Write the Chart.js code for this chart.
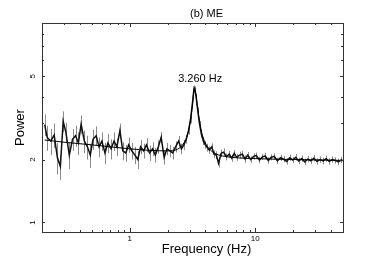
<!DOCTYPE html>
<html>
<head>
<meta charset="utf-8">
<script src="https://cdn.jsdelivr.net/npm/chart.js@4"></script>
<style>
  body { margin: 0; background: #fff; }
  #wrap { width: 387px; height: 273px; }
</style>
</head>
<body>
<div id="wrap"><canvas id="psd" width="387" height="273"></canvas></div>
<script>
const freq = [0.21, 0.22, 0.235, 0.25, 0.265, 0.28, 0.295, 0.31, 0.33, 0.35, 0.37, 0.39, 0.41, 0.435, 0.46, 0.485,
  0.51, 0.54, 0.57, 0.6, 0.635, 0.67, 0.71, 0.75, 0.79, 0.835, 0.88, 0.93, 0.98, 1.04, 1.1, 1.16, 1.22, 1.29, 1.36,
  1.44, 1.52, 1.6, 1.69, 1.78, 1.88, 1.98, 2.09, 2.2, 2.32, 2.45, 2.58, 2.7, 2.82, 2.94, 3.05, 3.15, 3.22, 3.26, 3.3,
  3.38, 3.48, 3.6, 3.72, 3.86, 4.0, 4.15, 4.3, 4.5, 4.7, 4.9, 5.1, 5.35, 5.6, 5.9, 6.2, 6.5, 6.8, 7.1, 7.5, 7.9, 8.3,
  8.7, 9.2, 9.7, 10.2, 10.8, 11.4, 12, 12.7, 13.4, 14.2, 15, 15.9, 16.8, 17.8, 18.8, 19.9, 21, 22.2, 23.5, 24.8,
  26.2, 27.7, 29.3, 31, 32.8, 34.7, 36.7, 38.8, 41, 43.4, 45.9, 48.5, 50];
const power = [2.94, 2.55, 2.45, 2.62, 2.05, 1.85, 3.05, 2.7, 2.1, 2.5, 2.6, 2.4, 2.95, 2.45, 2.3, 2.1,
  2.5, 2.6, 2.3, 2.45, 2.15, 2.4, 2.25, 2.45, 2.3, 2.75, 2.2, 2.15, 2.35, 2.2, 2.1, 2.0, 2.3, 2.2, 2.35,
  2.15, 2.25, 2.1, 2.3, 2.55, 2.05, 2.25, 2.2, 2.15, 2.3, 2.45, 2.25, 2.35, 2.5, 2.75, 3.1, 3.65, 4.15, 4.4, 4.35,
  4.0, 3.45, 2.95, 2.65, 2.45, 2.35, 2.28, 2.22, 2.3, 2.12, 2.1, 1.92, 2.14, 2.17, 2.06, 2.12, 2.03, 2.14, 2.05, 2.1, 2.12, 2.01,
  2.1, 2.0, 2.07, 2.09, 1.99, 2.06, 2.08, 1.98, 2.05, 2.07, 1.97, 2.04, 2.01, 1.96, 2.04, 1.99, 2.05, 1.97, 2.02, 1.95,
  2.01, 1.97, 2.03, 1.96, 2.0, 1.97, 2.02, 1.96, 2.0, 1.98, 1.95, 1.99, 1.97];
const powerErr = [0.35, 0.35, 0.35, 0.35, 0.35, 0.25, 0.35, 0.3, 0.3, 0.3, 0.3, 0.3, 0.3, 0.3, 0.3, 0.28,
  0.28, 0.28, 0.25, 0.25, 0.25, 0.25, 0.25, 0.25, 0.22, 0.22, 0.22, 0.2, 0.2, 0.2, 0.2, 0.2, 0.18, 0.18, 0.18,
  0.18, 0.17, 0.17, 0.17, 0.16, 0.16, 0.15, 0.15, 0.15, 0.14, 0.14, 0.13, 0.13, 0.12, 0.12, 0.12, 0.12, 0.12, 0.12, 0.12,
  0.12, 0.11, 0.11, 0.1, 0.1, 0.1, 0.1, 0.09, 0.09, 0.09, 0.09, 0.09, 0.09, 0.09, 0.08, 0.08, 0.08, 0.08, 0.08, 0.08, 0.08, 0.08,
  0.07, 0.07, 0.07, 0.07, 0.07, 0.07, 0.07, 0.07, 0.07, 0.07, 0.07, 0.07, 0.07, 0.07, 0.07, 0.07, 0.07, 0.07, 0.07, 0.07,
  0.07, 0.07, 0.07, 0.07, 0.07, 0.07, 0.07, 0.07, 0.07, 0.07, 0.07, 0.07, 0.07];

// fitted model (power law + Lorentzian + constant)
const modelFreq = [0.21, 0.3, 0.5, 0.7, 1.0, 1.5, 2.0, 2.4, 2.7, 2.9, 3.05, 3.15, 3.22, 3.26, 3.3, 3.38, 3.5, 3.65,
  3.8, 4.0, 4.3, 4.7, 5.5, 7, 10, 20, 50];
const modelPower = [2.48, 2.42, 2.35, 2.3, 2.25, 2.21, 2.2, 2.24, 2.4, 2.65, 3.1, 3.6, 4.1, 4.35, 4.3, 4.0, 3.4, 2.9,
  2.6, 2.4, 2.25, 2.15, 2.08, 2.04, 2.02, 2.0, 1.98];

const xMajorTicks = [1, 10];
const xMinorTicks = [0.3, 0.4, 0.5, 0.6, 0.7, 0.8, 0.9, 2, 3, 4, 5, 6, 7, 8, 9, 20, 30, 40];
const yLabelTicks = [1, 2, 5];
const yMinorTicks = [3, 4, 6, 7, 8, 9];
const peakLabel = '3.260 Hz';
const peakFreq = 3.26;

const FONT = '"Liberation Sans", Arial, Helvetica, sans-serif';

const errorBars = {
  id: 'errorBars',
  beforeDatasetsDraw(chart) {
    const { ctx, scales: { x, y } } = chart;
    ctx.save();
    ctx.strokeStyle = '#8a8a8a';
    ctx.lineWidth = 1;
    ctx.beginPath();
    freq.forEach((f, i) => {
      const px = Math.round(x.getPixelForValue(f)) + 0.5;
      ctx.moveTo(px, y.getPixelForValue(power[i] + powerErr[i]));
      ctx.lineTo(px, y.getPixelForValue(power[i] - powerErr[i]));
    });
    ctx.stroke();
    ctx.restore();
  }
};

const frame = {
  id: 'frame',
  afterDraw(chart) {
    const { ctx, chartArea: a, scales: { x, y } } = chart;
    ctx.save();
    ctx.strokeStyle = '#333';
    ctx.lineWidth = 1;
    ctx.strokeRect(a.left + 0.5, a.top + 0.5, a.right - a.left, a.bottom - a.top);

    ctx.beginPath();
    const xt = (v, len) => {
      const px = Math.round(x.getPixelForValue(v)) + 0.5;
      ctx.moveTo(px, a.bottom); ctx.lineTo(px, a.bottom - len);
      ctx.moveTo(px, a.top); ctx.lineTo(px, a.top + len);
    };
    const yt = (v, len) => {
      const py = Math.round(y.getPixelForValue(v)) + 0.5;
      ctx.moveTo(a.left, py); ctx.lineTo(a.left + len, py);
      ctx.moveTo(a.right, py); ctx.lineTo(a.right - len, py);
    };
    xMajorTicks.forEach(v => xt(v, 4));
    xMinorTicks.forEach(v => xt(v, 2));
    yLabelTicks.forEach(v => yt(v, 3));
    yMinorTicks.forEach(v => yt(v, 2));
    ctx.stroke();

    ctx.fillStyle = '#000';
    ctx.font = '8px ' + FONT;
    ctx.textAlign = 'center';
    ctx.textBaseline = 'middle';
    xMajorTicks.forEach(v => ctx.fillText(String(v), x.getPixelForValue(v), a.bottom + 7));
    yLabelTicks.forEach(v => {
      ctx.save();
      ctx.translate(a.left - 9, y.getPixelForValue(v));
      ctx.rotate(-Math.PI / 2);
      ctx.fillText(String(v), 0, 0);
      ctx.restore();
    });

    const mid = (a.left + a.right) / 2 + 14;
    ctx.font = '11px ' + FONT;
    ctx.fillText('(b) ME', mid, 14);
    ctx.fillText(peakLabel, x.getPixelForValue(peakFreq) + 6, y.getPixelForValue(4.88));

    ctx.font = '13px ' + FONT;
    ctx.fillText('Frequency (Hz)', mid, a.bottom + 17);
    ctx.save();
    ctx.translate(20, (a.top + a.bottom) / 2);
    ctx.rotate(-Math.PI / 2);
    ctx.fillText('Power', 0, 0);
    ctx.restore();
    ctx.restore();
  }
};

new Chart(document.getElementById('psd'), {
  type: 'line',
  data: {
    datasets: [
      {
        label: 'model',
        data: modelFreq.map((f, i) => ({ x: f, y: modelPower[i] })),
        borderColor: '#000',
        borderWidth: 1,
        pointRadius: 0,
        cubicInterpolationMode: 'monotone'
      },
      {
        label: 'data',
        data: freq.map((f, i) => ({ x: f, y: power[i] })),
        borderColor: '#111',
        borderWidth: 1.5,
        pointRadius: 0,
        tension: 0
      }
    ]
  },
  options: {
    responsive: false,
    animation: false,
    layout: { padding: { left: 42, right: 44, top: 23, bottom: 41 } },
    plugins: { legend: { display: false }, tooltip: { enabled: false } },
    scales: {
      x: {
        type: 'logarithmic', min: 0.2, max: 50,
        ticks: { display: false }, grid: { display: false, drawTicks: false }, border: { display: false }
      },
      y: {
        type: 'logarithmic', min: 0.9, max: 9,
        ticks: { display: false }, grid: { display: false, drawTicks: false }, border: { display: false }
      }
    }
  },
  plugins: [errorBars, frame]
});
</script>
</body>
</html>
